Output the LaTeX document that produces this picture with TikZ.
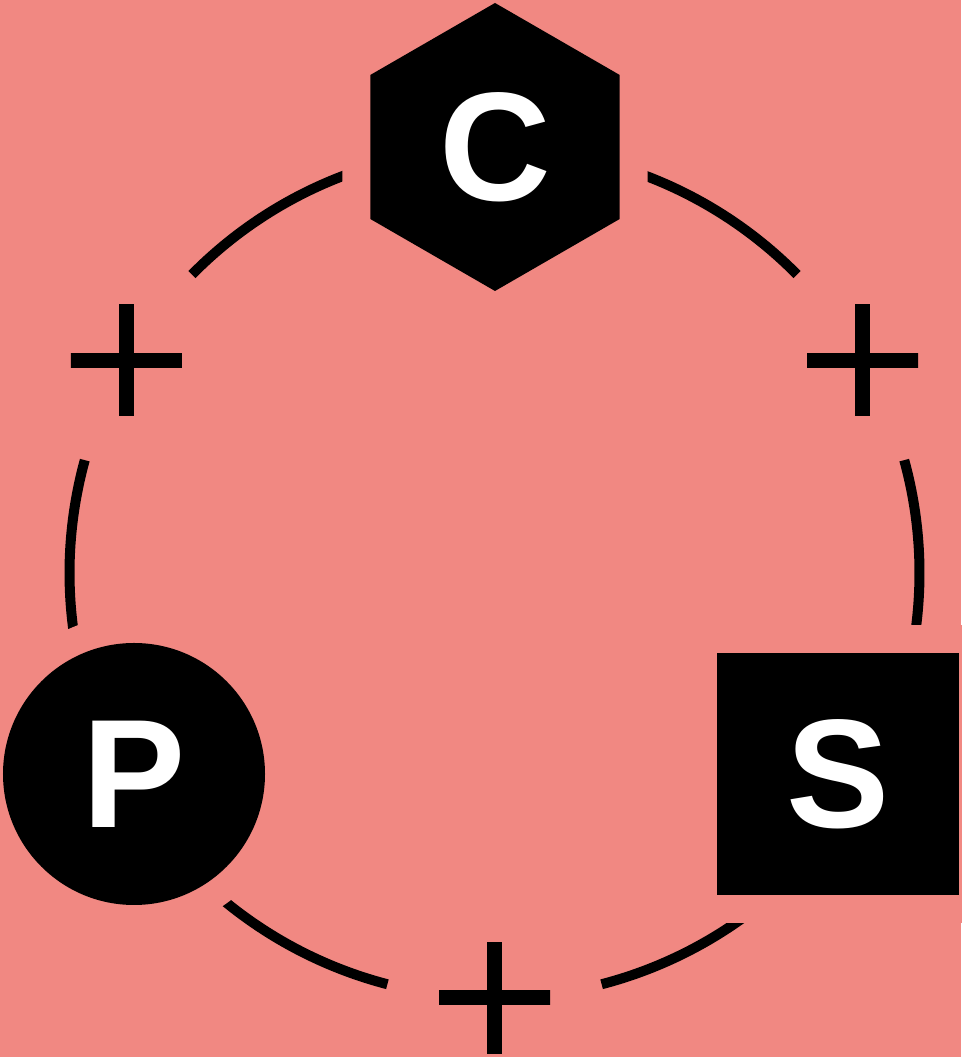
\documentclass[tikz,border=0pt]{standalone}
\usepackage{fontspec}
\setmainfont{Liberation Sans}
\usetikzlibrary{shapes.geometric}
\definecolor{salmon}{RGB}{241,136,130}

\begin{document}
\begin{tikzpicture}[
  font=\fontsize{44}{44}\selectfont\bfseries,
  shp/.style={fill=black, text=white, inner sep=0pt,
    preaction={draw=salmon, line width=5.6mm}},
  plus/.style={minimum size=11.1mm, inner sep=0pt, path picture={
    \fill (path picture bounding box.center) ++(-0.075,-0.6) rectangle ++(0.15,1.2);
    \fill (path picture bounding box.center) ++(-0.6,-0.075) rectangle ++(1.2,0.15);}},
  ring/.style={line width=1mm}
]
% ---------------- background ---------------------------------------------
\fill[salmon] (0,0) rectangle (9.61,10.57);
\useasboundingbox (0,0) rectangle (9.61,10.57);
\coordinate (o) at (4.945,4.84);
% ---------------- the ring, open at the three plus signs -----------------
\foreach \a/\b in {44.6/90, 90/135.4, 164.6/210, 210/255.4, 284.6/330, -30/15.4}
  \draw[ring] ([shift={(\a:4.25)}]o) arc[start angle=\a, end angle=\b, radius=4.25];
% ---------------- the three members --------------------------------------
\node[shp, regular polygon, regular polygon sides=6, shape border rotate=30,
  minimum size=28.8mm] (C) at (4.95,9.10) {C};
\node[shp, circle, minimum size=26.2mm] (P) at (1.34,2.83) {P};
\node[shp, minimum size=24.2mm] (S) at (8.38,2.83) {S};
% ---------------- plus signs ---------------------------------------------
\foreach \n/\a in {pl/150, pr/30, pb/270}
  \node[plus] (\n) at ([shift={(\a:4.25)}]o) {};
\end{tikzpicture}
\end{document}
